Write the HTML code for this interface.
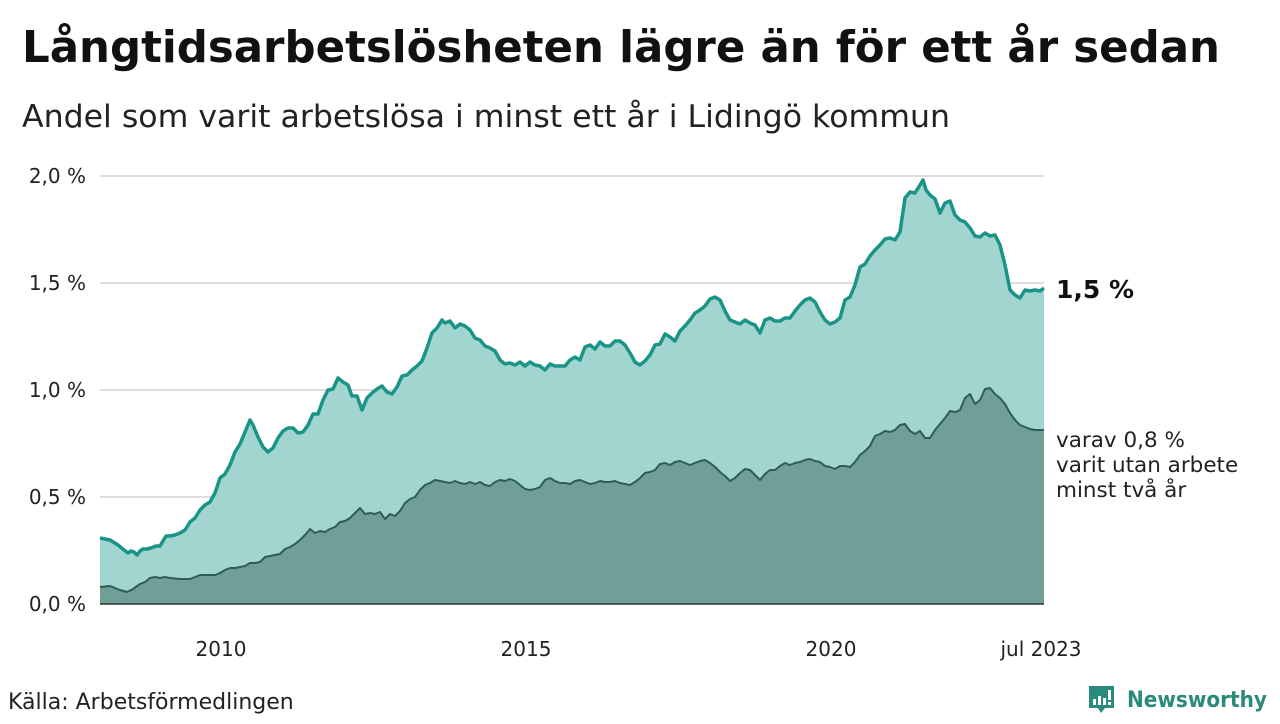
<!DOCTYPE html>
<html><head><meta charset="utf-8"><style>
body{margin:0;width:1280px;height:720px;background:#fff;overflow:hidden;font-family:"DejaVu Sans","Liberation Sans",sans-serif;}
</style></head><body>
<svg width="1280" height="720" xmlns="http://www.w3.org/2000/svg" font-family="DejaVu Sans, Liberation Sans, sans-serif">
<text x="22" y="62" font-size="44" font-weight="bold" fill="#111" textLength="1198" lengthAdjust="spacingAndGlyphs">Långtidsarbetslösheten lägre än för ett år sedan</text>
<text x="22" y="127" font-size="31" fill="#222" textLength="928" lengthAdjust="spacingAndGlyphs">Andel som varit arbetslösa i minst ett år i Lidingö kommun</text>
<g stroke="#ddd" stroke-width="2">
<line x1="100" y1="176" x2="1044" y2="176"/><line x1="100" y1="283" x2="1044" y2="283"/><line x1="100" y1="390" x2="1044" y2="390"/><line x1="100" y1="497" x2="1044" y2="497"/>
</g>
<g font-size="20" fill="#222" text-anchor="end">
<text x="86" y="183">2,0 %</text><text x="86" y="290">1,5 %</text><text x="86" y="397">1,0 %</text><text x="86" y="504">0,5 %</text><text x="86" y="611">0,0 %</text>
</g>
<g font-size="20" fill="#222" text-anchor="middle">
<text x="221" y="656">2010</text><text x="526" y="656">2015</text><text x="831" y="656">2020</text><text x="1041" y="656">jul 2023</text>
</g>
<polygon fill="#a3d5d0" points="100,604 100,538 110,540 118,545 124,550 128,553 131,551 134,552 137,555 140,551 143,549 147,549 151,548 156,546 160,546 163,541 166,536 170,536 175,535 180,533 185,530 190,522 195,518 200,510 205,505 210,502 215,493 220,478 225,474 230,465 235,452 240,444 245,432 250,420 253,425 258,437 263,447 268,452 273,448 278,438 283,431 288,428 293,428 298,433 303,432 308,425 313,414 318,414 323,400 328,390 333,389 338,378 343,382 348,385 352,396 357,396 362,410 367,398 372,393 377,389 382,386 387,392 392,394 397,387 402,376 407,375 412,370 417,366 422,361 427,348 432,333 437,328 442,320 445,323 450,321 455,328 460,324 465,326 470,330 475,338 480,340 485,346 490,348 495,351 500,360 505,364 510,363 515,365 520,362 525,366 530,362 535,365 540,366 545,370 550,364 555,366 560,366 565,366 570,360 575,357 580,360 585,347 590,345 595,349 600,342 605,346 610,346 615,341 620,341 625,345 630,353 635,362 640,365 645,361 650,355 655,345 660,344 665,334 670,337 675,341 680,331 685,326 690,320 695,313 700,310 705,306 710,299 715,297 720,300 725,311 730,320 735,322 740,324 745,320 750,323 755,325 760,333 765,320 770,318 775,321 780,321 785,318 790,318 795,311 800,305 805,300 810,298 815,302 820,312 825,320 830,324 835,322 840,318 845,300 850,297 855,285 860,267 865,264 870,256 875,250 880,245 885,239 890,238 895,240 900,232 905,198 910,192 915,193 920,185 923,180 926,190 930,195 935,199 940,213 945,203 950,201 955,215 960,220 965,222 970,228 975,236 980,237 985,233 990,236 995,235 1000,245 1005,265 1010,290 1015,295 1020,298 1025,290 1030,291 1035,290 1040,291 1044,288 1044,604"/>
<polyline fill="none" stroke="#1a9486" stroke-width="3.5" stroke-linejoin="round" points="100,538 110,540 118,545 124,550 128,553 131,551 134,552 137,555 140,551 143,549 147,549 151,548 156,546 160,546 163,541 166,536 170,536 175,535 180,533 185,530 190,522 195,518 200,510 205,505 210,502 215,493 220,478 225,474 230,465 235,452 240,444 245,432 250,420 253,425 258,437 263,447 268,452 273,448 278,438 283,431 288,428 293,428 298,433 303,432 308,425 313,414 318,414 323,400 328,390 333,389 338,378 343,382 348,385 352,396 357,396 362,410 367,398 372,393 377,389 382,386 387,392 392,394 397,387 402,376 407,375 412,370 417,366 422,361 427,348 432,333 437,328 442,320 445,323 450,321 455,328 460,324 465,326 470,330 475,338 480,340 485,346 490,348 495,351 500,360 505,364 510,363 515,365 520,362 525,366 530,362 535,365 540,366 545,370 550,364 555,366 560,366 565,366 570,360 575,357 580,360 585,347 590,345 595,349 600,342 605,346 610,346 615,341 620,341 625,345 630,353 635,362 640,365 645,361 650,355 655,345 660,344 665,334 670,337 675,341 680,331 685,326 690,320 695,313 700,310 705,306 710,299 715,297 720,300 725,311 730,320 735,322 740,324 745,320 750,323 755,325 760,333 765,320 770,318 775,321 780,321 785,318 790,318 795,311 800,305 805,300 810,298 815,302 820,312 825,320 830,324 835,322 840,318 845,300 850,297 855,285 860,267 865,264 870,256 875,250 880,245 885,239 890,238 895,240 900,232 905,198 910,192 915,193 920,185 923,180 926,190 930,195 935,199 940,213 945,203 950,201 955,215 960,220 965,222 970,228 975,236 980,237 985,233 990,236 995,235 1000,245 1005,265 1010,290 1015,295 1020,298 1025,290 1030,291 1035,290 1040,291 1044,288"/>
<polygon fill="#6f9f97" points="100,604 100,587 110,586 120,590 127,592 133,589 140,584 145,582 150,578 155,577 160,578 165,577 170,578 180,579 190,579 195,577 200,575 205,575 215,575 220,573 225,570 230,568 235,568 240,567 245,566 250,563 255,563 260,562 265,557 270,556 275,555 280,554 285,549 290,547 295,544 300,540 305,535 310,529 315,533 320,531 325,532 330,529 335,527 340,522 345,521 350,518 355,513 360,508 365,514 370,513 375,514 380,512 385,519 390,514 395,516 400,511 405,503 410,499 415,497 420,490 425,485 430,483 435,480 440,481 445,482 450,483 455,481 460,483 465,484 470,482 475,484 480,482 485,485 490,486 495,482 500,480 505,481 510,479 515,481 520,485 525,489 530,490 535,489 540,487 545,480 550,478 555,481 560,483 565,483 570,484 575,481 580,480 585,482 590,484 595,483 600,481 605,482 610,482 615,481 620,483 625,484 630,485 635,482 640,478 645,473 650,472 655,470 660,464 665,463 670,465 675,462 680,461 685,463 690,465 695,463 700,461 705,460 710,463 715,467 720,472 725,476 730,481 735,478 740,473 745,469 750,470 755,475 760,480 765,474 770,470 775,470 780,466 785,463 790,465 795,463 800,462 805,460 810,459 815,461 820,462 825,466 830,467 835,469 840,466 845,466 850,467 855,462 860,455 865,451 870,446 875,436 880,434 885,431 890,432 895,430 900,425 905,424 910,431 915,434 920,431 925,438 930,438 935,430 940,424 945,418 950,411 955,412 960,410 965,398 970,394 975,404 980,400 985,389 990,388 995,394 1000,398 1005,404 1010,413 1015,420 1020,425 1025,427 1030,429 1035,430 1040,430 1044,430 1044,604"/>
<polyline fill="none" stroke="#2f5d55" stroke-width="2" stroke-linejoin="round" points="100,587 110,586 120,590 127,592 133,589 140,584 145,582 150,578 155,577 160,578 165,577 170,578 180,579 190,579 195,577 200,575 205,575 215,575 220,573 225,570 230,568 235,568 240,567 245,566 250,563 255,563 260,562 265,557 270,556 275,555 280,554 285,549 290,547 295,544 300,540 305,535 310,529 315,533 320,531 325,532 330,529 335,527 340,522 345,521 350,518 355,513 360,508 365,514 370,513 375,514 380,512 385,519 390,514 395,516 400,511 405,503 410,499 415,497 420,490 425,485 430,483 435,480 440,481 445,482 450,483 455,481 460,483 465,484 470,482 475,484 480,482 485,485 490,486 495,482 500,480 505,481 510,479 515,481 520,485 525,489 530,490 535,489 540,487 545,480 550,478 555,481 560,483 565,483 570,484 575,481 580,480 585,482 590,484 595,483 600,481 605,482 610,482 615,481 620,483 625,484 630,485 635,482 640,478 645,473 650,472 655,470 660,464 665,463 670,465 675,462 680,461 685,463 690,465 695,463 700,461 705,460 710,463 715,467 720,472 725,476 730,481 735,478 740,473 745,469 750,470 755,475 760,480 765,474 770,470 775,470 780,466 785,463 790,465 795,463 800,462 805,460 810,459 815,461 820,462 825,466 830,467 835,469 840,466 845,466 850,467 855,462 860,455 865,451 870,446 875,436 880,434 885,431 890,432 895,430 900,425 905,424 910,431 915,434 920,431 925,438 930,438 935,430 940,424 945,418 950,411 955,412 960,410 965,398 970,394 975,404 980,400 985,389 990,388 995,394 1000,398 1005,404 1010,413 1015,420 1020,425 1025,427 1030,429 1035,430 1040,430 1044,430"/>
<line x1="100" y1="604" x2="1044" y2="604" stroke="#333" stroke-width="1.5"/>
<text x="1056" y="298" font-size="25" font-weight="bold" fill="#111">1,5 %</text>
<g font-size="21.5" fill="#222"><text x="1056" y="447">varav 0,8 %</text><text x="1056" y="472">varit utan arbete</text><text x="1056" y="497">minst två år</text></g>
<text x="8" y="709" font-size="22" fill="#222">Källa: Arbetsförmedlingen</text>
<g transform="translate(1089,686)">
<path d="M0,0 h25 v22 h-9 l-4,5 l-3,-5 h-9 z" fill="#2a8a7e"/>
<rect x="4" y="13" width="3" height="6" fill="#fff"/><rect x="9" y="10" width="3" height="9" fill="#fff"/><rect x="14" y="12" width="3" height="7" fill="#fff"/><rect x="19" y="4" width="3" height="10" fill="#fff"/><rect x="19" y="16" width="3" height="3" fill="#fff"/>
</g>
<text x="1127" y="707" font-size="22" font-weight="bold" fill="#2a8a7e" textLength="140" lengthAdjust="spacingAndGlyphs">Newsworthy</text>
</svg>
</body></html>
